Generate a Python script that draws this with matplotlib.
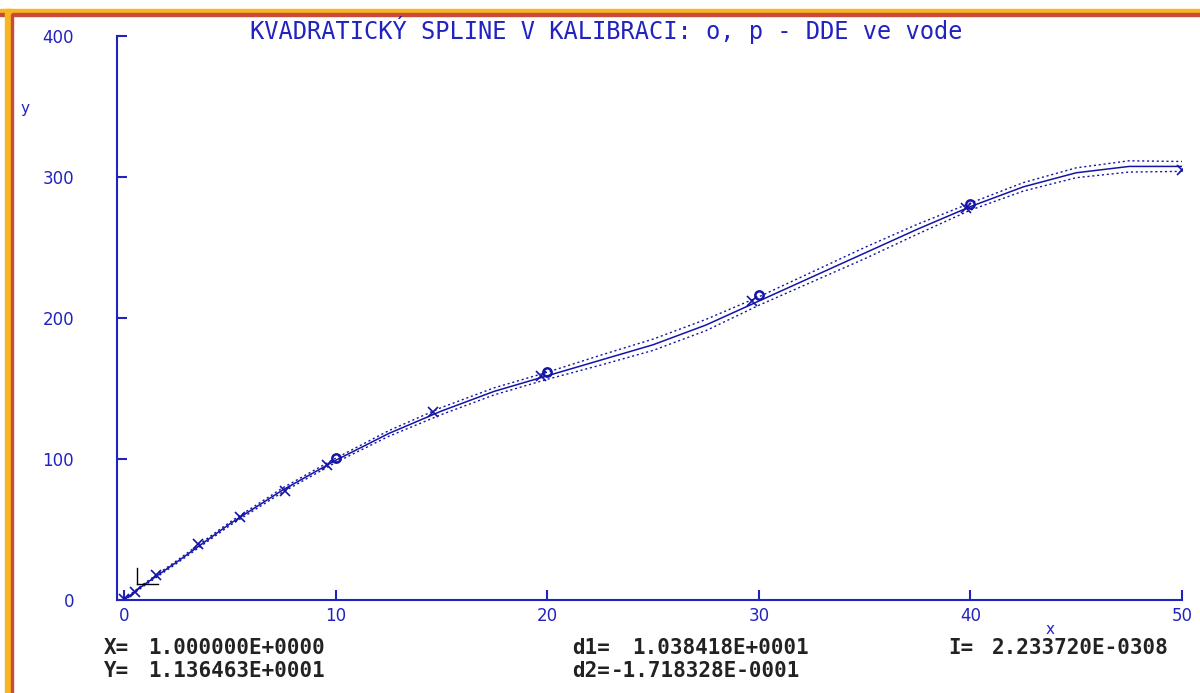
import matplotlib
matplotlib.use("Agg")
import matplotlib.pyplot as plt
from matplotlib.patches import Rectangle

# calibration points (x markers)
pts_x = [0.0, 0.5, 1.5, 3.5, 5.5, 7.6, 9.6, 14.6, 19.7, 29.7, 39.8, 50.0]
pts_y = [1.0, 6.0, 18.0, 40.0, 59.0, 77.0, 96.0, 133.0, 159.0, 212.0, 278.0, 305.0]

# "o" points
o_x = [10.0, 20.0, 30.0, 40.0]
o_y = [101.0, 162.0, 216.0, 281.0]

# spline curve and confidence band half-width
curve_x = [0, 1, 2.5, 5, 7.5, 10, 12.5, 15, 17.5, 20, 22.5, 25, 27.5, 30,
           32.5, 35, 37.5, 40, 42.5, 45, 47.5, 50]
curve_y = [0, 11.4, 27, 54, 78, 99, 118, 134, 148, 159, 170, 181, 195, 212,
           229, 246, 263, 279, 293, 303, 307.5, 307.5]
band = [0.5, 0.8, 1.0, 1.2, 1.5, 1.5, 2.0, 2.5, 2.5, 2.5, 3.5, 4.0, 4.0, 3.0,
        3.5, 4.0, 3.5, 2.5, 3.0, 3.5, 4.0, 3.5]

x_ticks = [0, 10, 20, 30, 40, 50]
y_ticks = [0, 100, 200, 300, 400]

title = "KVADRATICKÝ SPLINE V KALIBRACI: o, p - DDE ve vode"

blue = "#2222c0"
dark = "#1414a8"
W, H = 1200, 693

fig = plt.figure(figsize=(12, 6.93), dpi=100)
fig.patch.set_facecolor("white")

# orange window frame at top and left
fig.patches.append(Rectangle((0, 1 - 14 / H), 1, 5 / H, transform=fig.transFigure,
                             color="#f7b51f", zorder=0))
fig.patches.append(Rectangle((0, 1 - 15.5 / H), 1, 2 / H, transform=fig.transFigure,
                             color="#c94a3a", zorder=0))
fig.patches.append(Rectangle((5 / W, 0), 6 / W, 1 - 9 / H, transform=fig.transFigure,
                             color="#f7b51f", zorder=0))
fig.patches.append(Rectangle((11 / W, 0), 2 / W, 1 - 13.5 / H, transform=fig.transFigure,
                             color="#c94a3a", zorder=0))

ax = fig.add_axes([117 / W, 1 - 600 / H, (1182 - 117) / W, (600 - 36) / H])
ax.set_facecolor("none")

lower = [c - b for c, b in zip(curve_y, band)]
upper = [c + b for c, b in zip(curve_y, band)]
ax.plot(curve_x, curve_y, color=dark, lw=1.1)
ax.plot(curve_x, lower, color=dark, lw=1.0, ls=(0, (1.5, 2)))
ax.plot(curve_x, upper, color=dark, lw=1.0, ls=(0, (1.5, 2)))
ax.plot(pts_x, pts_y, ls="none", marker="x", ms=7, mew=1.2, color=dark)
ax.plot(o_x, o_y, ls="none", marker="o", ms=6, mew=1.8, mfc="none", color=dark)

# cursor at X=1, Y=11.36
ax.plot([0.6, 0.6], [11.36, 22.5], color="black", lw=1.0)
ax.plot([0.6, 1.6], [11.36, 11.36], color="black", lw=1.0)

ax.set_xlim(-0.33, 50)
ax.set_ylim(0, 400)
ax.set_xticks(x_ticks)
ax.set_yticks(y_ticks)
for s in ["top", "right"]:
    ax.spines[s].set_visible(False)
for s in ["left", "bottom"]:
    ax.spines[s].set_color(blue)
    ax.spines[s].set_linewidth(1.5)
ax.tick_params(direction="in", length=7, width=1.5, color=blue, labelcolor=blue,
               labelsize=12)
ax.tick_params(axis="y", pad=31)
ax.tick_params(axis="x", pad=5)

fig.text(606 / W, 1 - 30 / H, title, ha="center", va="center", color=blue,
         fontsize=17, family="DejaVu Sans Mono")
fig.text(25 / W, 1 - 108 / H, "y", ha="center", va="center", color=blue, fontsize=11)
fig.text(1050 / W, 1 - 630 / H, "x", ha="center", va="center", color=blue, fontsize=11)

info = [
    (104, 648, "X=", 148, "1.000000E+0000"),
    (104, 671, "Y=", 148, "1.136463E+0001"),
    (572, 648, "d1=", 632, "1.038418E+0001"),
    (572, 671, "d2=", 611, "-1.718328E-0001"),
    (948, 648, "I=", 992, "2.233720E-0308"),
]
for lx, ly, lab, vx, val in info:
    fig.text(lx / W, 1 - ly / H, lab, ha="left", va="center", color="#222222",
             fontsize=15, family="DejaVu Sans Mono", weight="bold")
    fig.text(vx / W, 1 - ly / H, val, ha="left", va="center", color="#222222",
             fontsize=15, family="DejaVu Sans Mono", weight="bold")

fig.savefig("out.png", dpi=100)
